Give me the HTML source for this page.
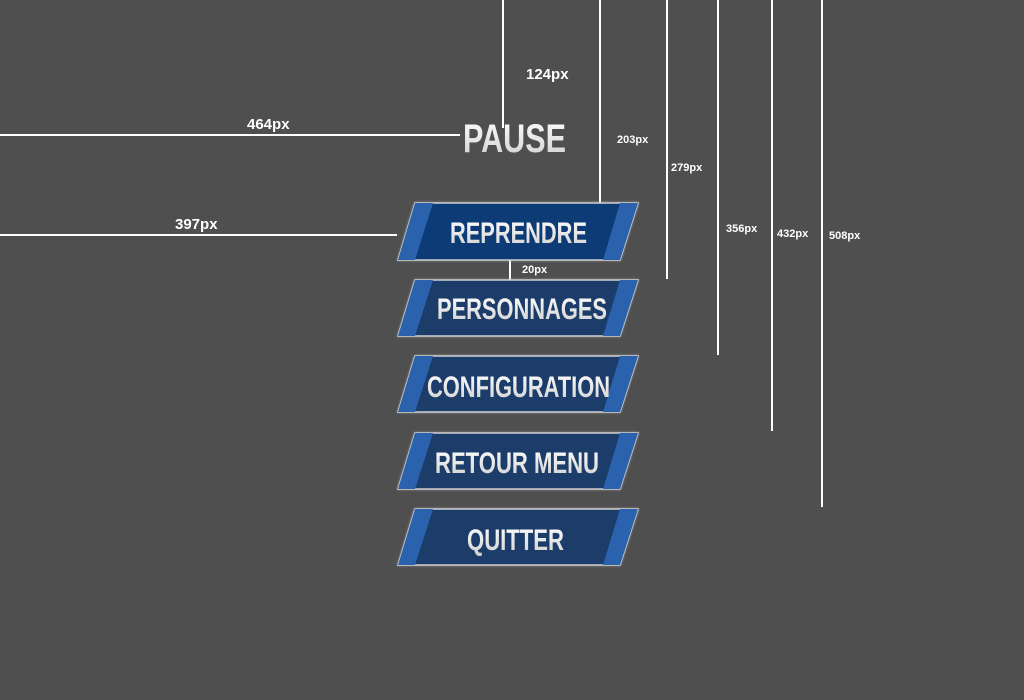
<!DOCTYPE html>
<html><head><meta charset="utf-8"><style>
html,body{margin:0;padding:0;background:#4f4f4f;width:1024px;height:700px;overflow:hidden}
svg{display:block}
</style></head><body>
<svg width="1024" height="700" viewBox="0 0 1024 700" xmlns="http://www.w3.org/2000/svg" font-family="'Liberation Sans', sans-serif">
<defs>
<linearGradient id="tg" x1="0" y1="0" x2="0" y2="1">
<stop offset="0" stop-color="#ffffff"/><stop offset="1" stop-color="#cfcfcf"/>
</linearGradient>
<filter id="glow" x="-10%" y="-20%" width="120%" height="140%">
<feGaussianBlur in="SourceAlpha" stdDeviation="2.5"/>
<feFlood flood-color="#bbbbbb" flood-opacity="0.7"/>
<feComposite operator="in" in2="SourceAlpha"/>
<feGaussianBlur stdDeviation="1"/>
<feMerge><feMergeNode/><feMergeNode in="SourceGraphic"/></feMerge>
</filter>
</defs>
<rect width="1024" height="700" fill="#4f4f4f"/>
<g stroke="#ffffff" stroke-width="2">
<line x1="503" y1="0" x2="503" y2="128"/>
<line x1="600" y1="0" x2="600" y2="203"/>
<line x1="667" y1="0" x2="667" y2="279"/>
<line x1="718" y1="0" x2="718" y2="355"/>
<line x1="772" y1="0" x2="772" y2="431"/>
<line x1="822" y1="0" x2="822" y2="507"/>
<line x1="0" y1="135" x2="460" y2="135"/>
<line x1="0" y1="235" x2="397" y2="235"/>
<line x1="510" y1="260" x2="510" y2="280"/>
</g>
<g fill="#ffffff" font-weight="bold">
<text x="526" y="79" font-size="15">124px</text>
<text x="247" y="129" font-size="15">464px</text>
<text x="175" y="229" font-size="15">397px</text>
<text x="617" y="143" font-size="11">203px</text>
<text x="671" y="171" font-size="11">279px</text>
<text x="726" y="232" font-size="11">356px</text>
<text x="777" y="237" font-size="11">432px</text>
<text x="829" y="239" font-size="11">508px</text>
<text x="522" y="273" font-size="11">20px</text>
</g>
<text x="463" y="152" font-size="40" font-weight="bold" fill="url(#tg)" textLength="103" lengthAdjust="spacingAndGlyphs">PAUSE</text>

<g id="b1" transform="translate(0,203)">
<polygon points="415,0 638,0 620,57 398,57" fill="#0d3a75" stroke="#cfcfcf" stroke-width="1.5" filter="url(#glow)"/>
<polygon points="415,0 433,0 415,57 398,57" fill="#2a62ad"/>
<polygon points="620,0 638,0 620,57 603,57" fill="#2a62ad"/>
<text x="450" y="40" font-size="30" font-weight="bold" fill="url(#tg)" textLength="137" lengthAdjust="spacingAndGlyphs">REPRENDRE</text>
</g>
<g transform="translate(0,280)">
<polygon points="415,0 638,0 620,56 398,56" fill="#1f3e6b" stroke="#cfcfcf" stroke-width="1.5" filter="url(#glow)"/>
<polygon points="415,0 433,0 415,56 398,56" fill="#2a62ad"/>
<polygon points="620,0 638,0 620,56 603,56" fill="#2a62ad"/>
<text x="437" y="39" font-size="30" font-weight="bold" fill="url(#tg)" textLength="170" lengthAdjust="spacingAndGlyphs">PERSONNAGES</text>
</g>
<g transform="translate(0,356)">
<polygon points="415,0 638,0 620,56 398,56" fill="#1f3e6b" stroke="#cfcfcf" stroke-width="1.5" filter="url(#glow)"/>
<polygon points="415,0 433,0 415,56 398,56" fill="#2a62ad"/>
<polygon points="620,0 638,0 620,56 603,56" fill="#2a62ad"/>
<text x="427" y="41" font-size="30" font-weight="bold" fill="url(#tg)" textLength="183" lengthAdjust="spacingAndGlyphs">CONFIGURATION</text>
</g>
<g transform="translate(0,433)">
<polygon points="415,0 638,0 620,56 398,56" fill="#1f3e6b" stroke="#cfcfcf" stroke-width="1.5" filter="url(#glow)"/>
<polygon points="415,0 433,0 415,56 398,56" fill="#2a62ad"/>
<polygon points="620,0 638,0 620,56 603,56" fill="#2a62ad"/>
<text x="435" y="40" font-size="30" font-weight="bold" fill="url(#tg)" textLength="164" lengthAdjust="spacingAndGlyphs">RETOUR MENU</text>
</g>
<g transform="translate(0,509)">
<polygon points="415,0 638,0 620,56 398,56" fill="#1f3e6b" stroke="#cfcfcf" stroke-width="1.5" filter="url(#glow)"/>
<polygon points="415,0 433,0 415,56 398,56" fill="#2a62ad"/>
<polygon points="620,0 638,0 620,56 603,56" fill="#2a62ad"/>
<text x="467" y="41" font-size="30" font-weight="bold" fill="url(#tg)" textLength="97" lengthAdjust="spacingAndGlyphs">QUITTER</text>
</g>
</svg>
</body></html>
